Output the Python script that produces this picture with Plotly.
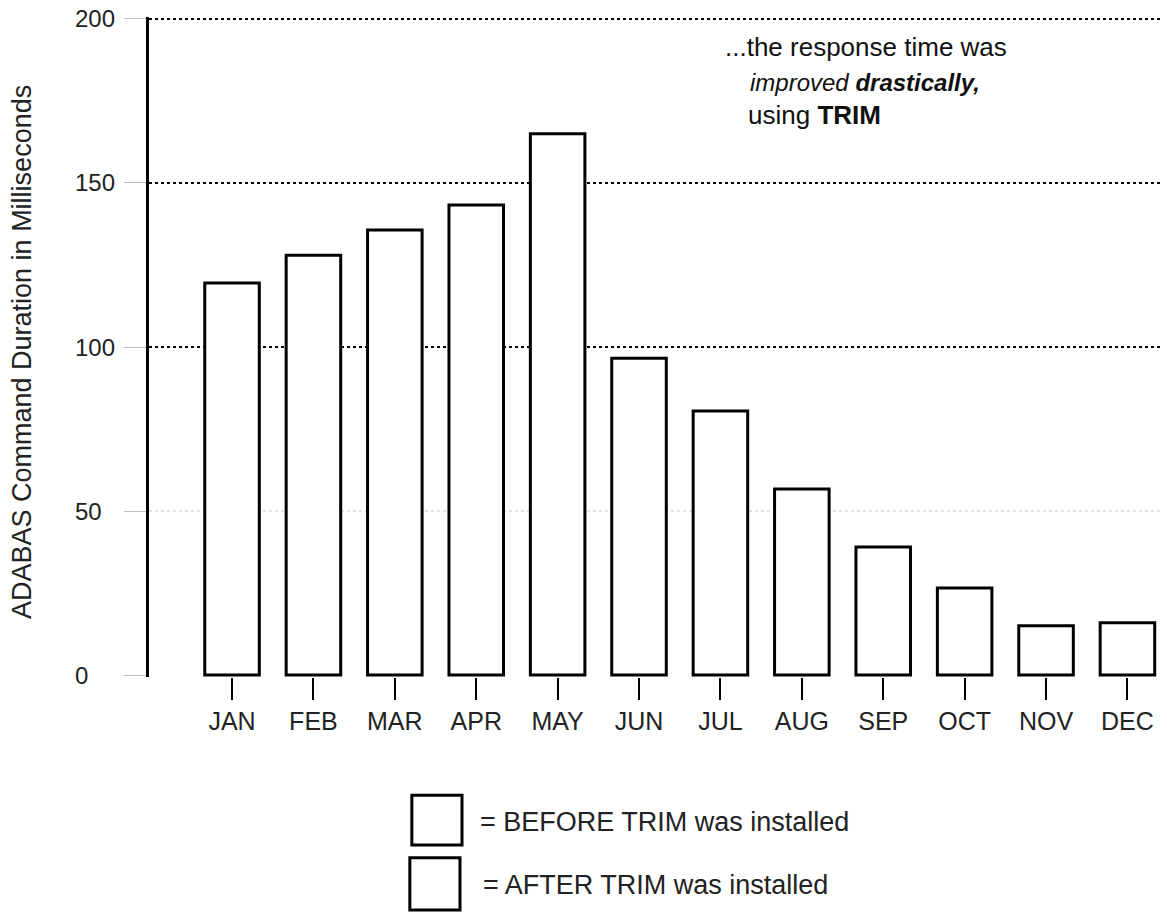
import plotly.graph_objects as go

months = ["JAN", "FEB", "MAR", "APR", "MAY", "JUN", "JUL", "AUG", "SEP", "OCT", "NOV", "DEC"]
duration_ms = [119.5, 128, 135.7, 143.3, 165, 96.6, 80.5, 56.7, 39, 26.5, 15, 15.9]
y_ticks = [0, 50, 100, 150, 200]
grid_colors = {50: "#c8c8c8", 100: "black", 150: "black", 200: "black"}

FONT = "Liberation Sans, Arial, sans-serif"

fig = go.Figure()
fig.add_trace(go.Bar(
    x=list(range(len(months))),
    y=duration_ms,
    width=0.67,
    marker=dict(color="white", line=dict(color="black", width=3)),
    showlegend=False,
    hoverinfo="skip",
))

# gridlines
for v in y_ticks[1:]:
    fig.add_shape(type="line", xref="paper", yref="y", x0=0, x1=1, y0=v, y1=v,
                  line=dict(color=grid_colors[v], width=2 if v != 50 else 1, dash="dot"),
                  layer="below")

# left-aligned y tick labels
for v in y_ticks:
    fig.add_annotation(text=str(v), xref="paper", yref="y", x=-0.0752, y=v,
                       xanchor="left", yanchor="middle", showarrow=False,
                       font=dict(size=24, color="#222"))

fig.update_layout(
    width=1167, height=913,
    margin=dict(l=149, r=7, t=17, b=236),
    plot_bgcolor="white", paper_bgcolor="white",
    font=dict(family=FONT, color="#222", size=22),
    bargap=0.33,
    xaxis=dict(
        range=[-1.02, 11.4],
        tickmode="array", tickvals=list(range(len(months))), ticktext=months,
        showline=False, showgrid=False, zeroline=False,
        ticks="outside", ticklen=22, tickwidth=2, tickcolor="black",
        tickfont=dict(size=25, color="#222"),
    ),
    yaxis=dict(
        range=[-0.6, 200.6],
        tickmode="array", tickvals=y_ticks, showticklabels=False,
        showline=True, linecolor="black", linewidth=3,
        showgrid=False, zeroline=False,
        ticks="outside", ticklen=22, tickwidth=1, tickcolor="#c0c0c0",
    ),
)

# y-axis title
fig.add_annotation(text="ADABAS Command Duration in Milliseconds", textangle=-90,
                   xref="paper", yref="paper", x=-0.1256, y=0.4924,
                   xanchor="center", yanchor="middle",
                   showarrow=False, font=dict(size=27, color="#222"))

# top annotation
fig.add_annotation(text="...the response time was", xref="paper", yref="paper",
                   x=0.5677, y=0.9545, xanchor="left", yanchor="middle", showarrow=False,
                   font=dict(size=26, color="#111"))
fig.add_annotation(text="<i>improved</i> <b><i>drastically,</i></b>", xref="paper", yref="paper",
                   x=0.5925, y=0.90, xanchor="left", yanchor="middle", showarrow=False,
                   font=dict(size=24, color="#111"))
fig.add_annotation(text="using <b>TRIM</b>", xref="paper", yref="paper",
                   x=0.5905, y=0.8515, xanchor="left", yanchor="middle", showarrow=False,
                   font=dict(size=26, color="#111"))

# legend boxes
fig.add_shape(type="rect", xref="paper", yref="paper", x0=0.260, x1=0.3096, y0=-0.179, y1=-0.2545,
              line=dict(color="black", width=3), fillcolor="white")
fig.add_shape(type="rect", xref="paper", yref="paper", x0=0.258, x1=0.3076, y0=-0.274, y1=-0.353,
              line=dict(color="black", width=3), fillcolor="white")
fig.add_annotation(text="= BEFORE TRIM was installed", xref="paper", yref="paper",
                   x=0.3254, y=-0.22, xanchor="left", yanchor="middle", showarrow=False,
                   font=dict(size=27, color="#222"))
fig.add_annotation(text="= AFTER TRIM was installed", xref="paper", yref="paper",
                   x=0.3284, y=-0.315, xanchor="left", yanchor="middle", showarrow=False,
                   font=dict(size=27, color="#222"))

fig.write_html("out.html", config={"displayModeBar": False},
               post_script="document.body.style.margin='0';")
